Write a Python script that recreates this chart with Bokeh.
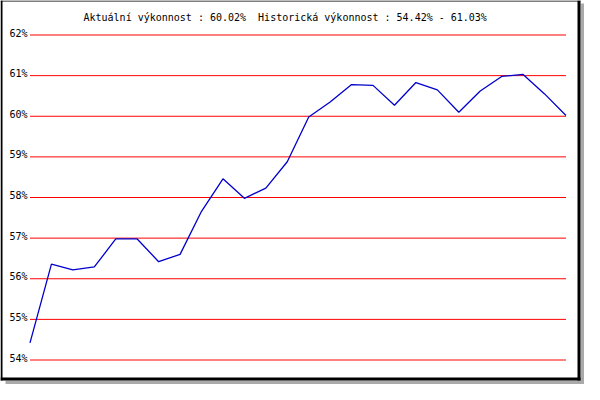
from bokeh.plotting import figure
from bokeh.models import Range1d, Label
from bokeh.embed import file_html
from bokeh.resources import INLINE
from bokeh.core.properties import value

# ---- data ----
values = [54.42, 56.36, 56.22, 56.29, 56.98, 56.98, 56.42, 56.60, 57.66, 58.46,
          57.98, 58.23, 58.88, 59.98, 60.35, 60.78, 60.76, 60.27, 60.83, 60.65,
          60.10, 60.62, 60.98, 61.03, 60.55, 60.02]
tick_values = [54, 55, 56, 57, 58, 59, 60, 61, 62]
tick_labels = ["54%", "55%", "56%", "57%", "58%", "59%", "60%", "61%", "62%"]
title_text = "Aktuální výkonnost : 60.02%\u00a0 Historická výkonnost : 54.42% - 61.03%"

idx = list(range(len(values)))
n = len(values)

# ---- layout (pixels, top-left origin) ----
W, H = 584, 384
X0_PX, X1_PX = 29.5, 565.5
Y_TOP_PX, Y_BOT_PX = 34.5, 359.5
ymin, ymax = tick_values[0], tick_values[-1]

sx = (X1_PX - X0_PX) / (n - 1)
sy = (Y_BOT_PX - Y_TOP_PX) / (ymax - ymin)
x_start = 0 - X0_PX / sx
x_end = (n - 1) + (W - X1_PX) / sx
y_end = ymax + Y_TOP_PX / sy
y_start = ymin - (H - Y_BOT_PX) / sy


def px2x(px):
    return x_start + px / sx


def px2y(py):
    return y_end - py / sy


FONT = "DejaVu Sans Mono"

p = figure(width=W, height=H, x_range=Range1d(x_start, x_end), y_range=Range1d(y_start, y_end),
           x_axis_location=None, y_axis_location=None, min_border=0,
           toolbar_location=None, output_backend="svg")
p.grid.visible = False
p.outline_line_color = None
p.background_fill_color = "white"
p.border_fill_color = "white"

# gridlines
p.segment(x0=[0] * len(tick_values), x1=[n - 1] * len(tick_values), y0=tick_values, y1=tick_values,
          line_color="#FF0000", line_width=1)

# data line
p.line(x=idx, y=values, line_color="#0000CC", line_width=1.3)

# y labels
p.text(x=[px2x(27)] * len(tick_values), y=tick_values, text=tick_labels,
       text_align="right", text_baseline="alphabetic", y_offset=-2,
       text_font=value(FONT), text_font_size="10px", text_color="black")

# title
p.add_layout(Label(x=px2x(83), y=px2y(17.3), text=title_text, text_font=FONT,
                   text_font_size="10px", text_align="left", text_baseline="alphabetic",
                   text_color="black"))

# frame border + shadow
p.quad(left=[px2x(580), px2x(5)], right=[px2x(584), px2x(584)],
       top=[px2y(3), px2y(380)], bottom=[px2y(384), px2y(384)],
       fill_color="#AAAAAA", line_color=None)
p.quad(left=[px2x(0), px2x(0), px2x(577), px2x(0)],
       right=[px2x(2), px2x(580), px2x(580), px2x(580)],
       top=[px2y(0), px2y(0), px2y(0), px2y(377)],
       bottom=[px2y(380), px2y(1), px2y(380), px2y(380)],
       fill_color="black", line_color=None)

open("out.html", "w").write(file_html(p, INLINE))
